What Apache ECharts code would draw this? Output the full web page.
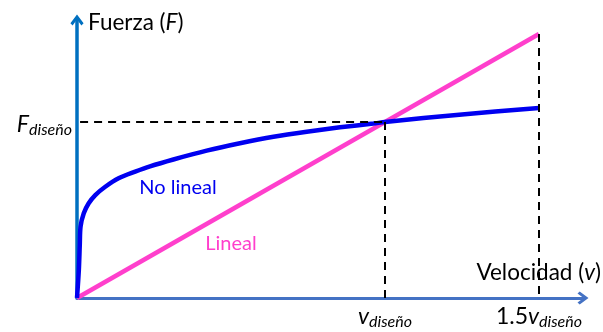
<!DOCTYPE html>
<html><head><meta charset="utf-8">
<script src="https://cdn.jsdelivr.net/npm/echarts@6/dist/echarts.min.js"></script>
<style>html,body{margin:0;padding:0;background:#fff}#c{width:603px;height:332px}</style>
</head><body><div id="c"></div>
<script>
// Data (normalised: v / v_diseño, F / F_diseño)
const vLinear = [0, 1.5];
const fLinear = [0, 1.5];
const vNonlinear = [0, 0.006, 0.009, 0.0115, 0.022, 0.038, 0.0594, 0.0919, 0.135, 0.189, 0.237, 0.313, 0.421, 0.529, 0.638, 0.746, 0.854, 0.962, 1.0, 1.25, 1.5];
const fNonlinear = [0, 0.16, 0.30, 0.405, 0.481, 0.538, 0.585, 0.632, 0.680, 0.718, 0.748, 0.787, 0.837, 0.879, 0.916, 0.945, 0.970, 0.991, 1.0, 1.043, 1.08];
const vDesign = 1;
const fDesign = 1;
const vMaxFactor = 1.5;
const xTickValues = [1, 1.5];
const xTickLabels = ['{v|v}{s|diseño}', '{n|1.5}{v|v}{s|diseño}'];
const yTickValues = [1];
const yTickLabels = ['{f|F}{s|diseño}'];
const yTitle = ['Fuerza (', 'F', ')'];
const xTitle = ['Velocidad (', 'v', ')'];
const nonlinearName = 'No lineal';
const linearName = 'Lineal';

const FONT = 'Lato';
const chart = echarts.init(document.getElementById('c'));
const arrow = 'path://M6,0L12,8L10,10L6,4.5L2,10L0,8Z';
const pair = (xs, ys) => xs.map((x, i) => [x, ys[i]]);

chart.setOption({
  animation: false,
  textStyle: { fontFamily: FONT },
  grid: { left: 77, top: 20, right: 20, bottom: 34 },
  xAxis: {
    type: 'value', min: 0, max: 1.643,
    splitLine: { show: false },
    axisTick: { show: false },
    axisLine: { onZero: false, lineStyle: { color: '#4472C4', width: 3 }, symbol: ['none', arrow], symbolSize: [15, 11] },
    axisLabel: {
      customValues: xTickValues,
      margin: 6,
      formatter: v => xTickLabels[xTickValues.indexOf(v)],
      rich: {
        v: { fontFamily: FONT, fontSize: 23, fontStyle: 'italic', color: '#000' },
        n: { fontFamily: FONT, fontSize: 23, color: '#000' },
        s: { fontFamily: FONT, fontSize: 16, fontStyle: 'italic', color: '#000', verticalAlign: 'bottom', padding: [10, 0, 0, 0] }
      }
    }
  },
  yAxis: {
    type: 'value', min: 0, max: 1.5795,
    splitLine: { show: false },
    axisTick: { show: false },
    axisLine: { onZero: false, lineStyle: { color: '#0070C0', width: 3.5 }, symbol: ['none', arrow], symbolSize: [16, 11] },
    axisLabel: {
      customValues: yTickValues,
      margin: 5,
      formatter: v => yTickLabels[yTickValues.indexOf(v)],
      rich: {
        f: { fontFamily: FONT, fontSize: 23, fontStyle: 'italic', color: '#000', padding: [6, 0, 0, 0] },
        s: { fontFamily: FONT, fontSize: 16, fontStyle: 'italic', color: '#000', verticalAlign: 'bottom', padding: [16, 0, 0, 0] }
      }
    }
  },
  graphic: [
    { type: 'text', left: 88, top: 11, style: { text: '{a|' + yTitle[0] + '}{b|' + yTitle[1] + '}{a|' + yTitle[2] + '}', rich: { a: { fontFamily: FONT, fontSize: 22.5, fill: '#000' }, b: { fontFamily: FONT, fontSize: 22.5, fontStyle: 'italic', fill: '#000' } } } },
    { type: 'text', right: 2, top: 261, style: { text: '{a|' + xTitle[0] + '}{b|' + xTitle[1] + '}{a|' + xTitle[2] + '}', rich: { a: { fontFamily: FONT, fontSize: 22.5, fill: '#000' }, b: { fontFamily: FONT, fontSize: 22.5, fontStyle: 'italic', fill: '#000' } } } }
  ],
  series: [
    {
      type: 'line', name: linearName, data: pair(vLinear, fLinear), symbol: 'none',
      lineStyle: { color: '#FF3FCC', width: 4.5 }, z: 3,
      markPoint: {
        symbol: 'circle', symbolSize: 0,
        data: [{ coord: [0.5, 0.31], label: { show: true, formatter: linearName, color: '#FF3FCC', fontFamily: FONT, fontSize: 20 } }]
      },
      markLine: {
        symbol: 'none', silent: true, animation: false,
        lineStyle: { color: '#000', width: 2, type: [8, 6] }, label: { show: false },
        data: [
          [{ coord: [0.01, fDesign] }, { coord: [vDesign, fDesign] }],
          [{ coord: [vDesign, fDesign] }, { coord: [vDesign, 0] }],
          [{ coord: [vMaxFactor, fLinear[1]] }, { coord: [vMaxFactor, 0] }]
        ]
      }
    },
    {
      type: 'line', name: nonlinearName, data: pair(vNonlinear, fNonlinear), symbol: 'none',
      smooth: 0.3,
      lineStyle: { color: '#0000F0', width: 4.5 }, z: 4,
      markPoint: {
        symbol: 'circle', symbolSize: 0,
        data: [{ coord: [0.328, 0.63], label: { show: true, formatter: nonlinearName, color: '#0000F0', fontFamily: FONT, fontSize: 20 } }]
      }
    }
  ]
});
</script></body></html>
